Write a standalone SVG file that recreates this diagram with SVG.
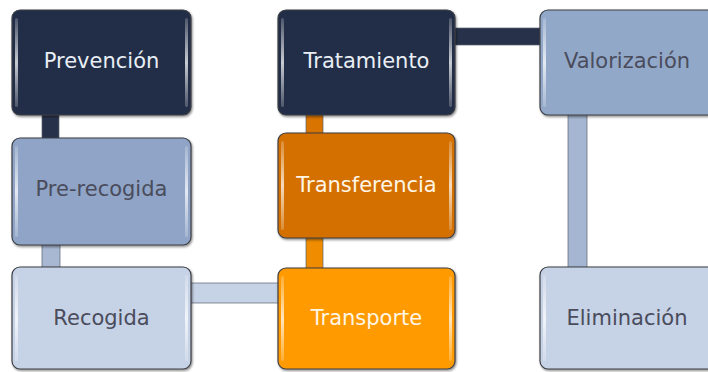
<svg xmlns="http://www.w3.org/2000/svg" width="708" height="372" viewBox="0 0 708 372">
<defs>
<filter id="sh" x="-10%" y="-10%" width="120%" height="125%">
<feDropShadow dx="1" dy="1.5" stdDeviation="1.2" flood-color="#000" flood-opacity="0.45"/>
</filter>
<linearGradient id="hl" x1="0" y1="0" x2="0" y2="1">
<stop offset="0" stop-color="#fff" stop-opacity="0.2"/>
<stop offset="0.5" stop-color="#fff" stop-opacity="0.75"/>
<stop offset="1" stop-color="#fff" stop-opacity="0.2"/>
</linearGradient>
</defs>
<style>
.box{stroke:#3c3f45;stroke-width:1.2;filter:url(#sh)}
.hl{fill:url(#hl)}
.bar{stroke:#5a6170;stroke-width:1;stroke-opacity:0.7}
text{font-family:"DejaVu Sans",Verdana,sans-serif;font-size:21px;text-anchor:middle}
.lt{fill:#e9eef6}
.dk{fill:#4a4c5c}
.wt{fill:#fff6e6}
</style>
<rect width="708" height="372" fill="#ffffff"/>
<g id="connectors">
<rect class="bar" x="42" y="112" width="17" height="28" fill="#27324a"/>
<rect class="bar" x="42" y="243" width="18" height="26" fill="#a8b8d3"/>
<rect class="bar" x="189" y="283" width="91" height="20" fill="#c6d2e6"/>
<rect class="bar" x="306" y="112" width="17" height="23" fill="#d97400"/>
<rect class="bar" x="306" y="236" width="17" height="34" fill="#f08c00"/>
<rect class="bar" x="453" y="28" width="89" height="17" fill="#27324a"/>
<rect class="bar" x="568" y="113" width="19" height="156" fill="#a5b6d2"/>
</g>
<g id="prevencion">
<rect class="box" x="12" y="10" width="179" height="105" rx="8" fill="#222e46"/>
<rect class="hl" x="15" y="18" width="3" height="89" rx="1.5"/>
<rect class="hl" x="185" y="18" width="3" height="89" rx="1.5"/>
<text class="lt" x="101.5" y="68">Prevención</text>
</g>
<g id="prerecogida">
<rect class="box" x="12" y="138" width="179" height="107" rx="8" fill="#8fa4c6"/>
<rect class="hl" x="15" y="146" width="3" height="91" rx="1.5"/>
<rect class="hl" x="185" y="146" width="3" height="91" rx="1.5"/>
<text class="dk" x="101.5" y="196">Pre-recogida</text>
</g>
<g id="recogida">
<rect class="box" x="12" y="267" width="179" height="102" rx="8" fill="#c6d2e6"/>
<rect class="hl" x="15" y="275" width="3" height="86" rx="1.5"/>
<rect class="hl" x="185" y="275" width="3" height="86" rx="1.5"/>
<text class="dk" x="101.5" y="325">Recogida</text>
</g>
<g id="tratamiento">
<rect class="box" x="278" y="10" width="177" height="105" rx="8" fill="#222e46"/>
<rect class="hl" x="281" y="18" width="3" height="89" rx="1.5"/>
<rect class="hl" x="449" y="18" width="3" height="89" rx="1.5"/>
<text class="lt" x="366.5" y="68">Tratamiento</text>
</g>
<g id="transferencia">
<rect class="box" x="278" y="133" width="177" height="105" rx="8" fill="#d46f00"/>
<rect class="hl" x="281" y="141" width="3" height="89" rx="1.5"/>
<rect class="hl" x="449" y="141" width="3" height="89" rx="1.5"/>
<text class="wt" x="366.5" y="192">Transferencia</text>
</g>
<g id="transporte">
<rect class="box" x="278" y="268" width="177" height="101" rx="8" fill="#ff9a00"/>
<rect class="hl" x="281" y="276" width="3" height="85" rx="1.5"/>
<rect class="hl" x="449" y="276" width="3" height="85" rx="1.5"/>
<text class="wt" x="366.5" y="325">Transporte</text>
</g>
<g id="valorizacion">
<rect class="box" x="540" y="10" width="180" height="105" rx="8" fill="#92a8c9"/>
<rect class="hl" x="543" y="18" width="3" height="89" rx="1.5"/>
<text class="dk" x="627" y="68">Valorización</text>
</g>
<g id="eliminacion">
<rect class="box" x="540" y="267" width="180" height="102" rx="8" fill="#c6d2e6"/>
<rect class="hl" x="543" y="275" width="3" height="86" rx="1.5"/>
<text class="dk" x="627" y="325">Eliminación</text>
</g>
</svg>
